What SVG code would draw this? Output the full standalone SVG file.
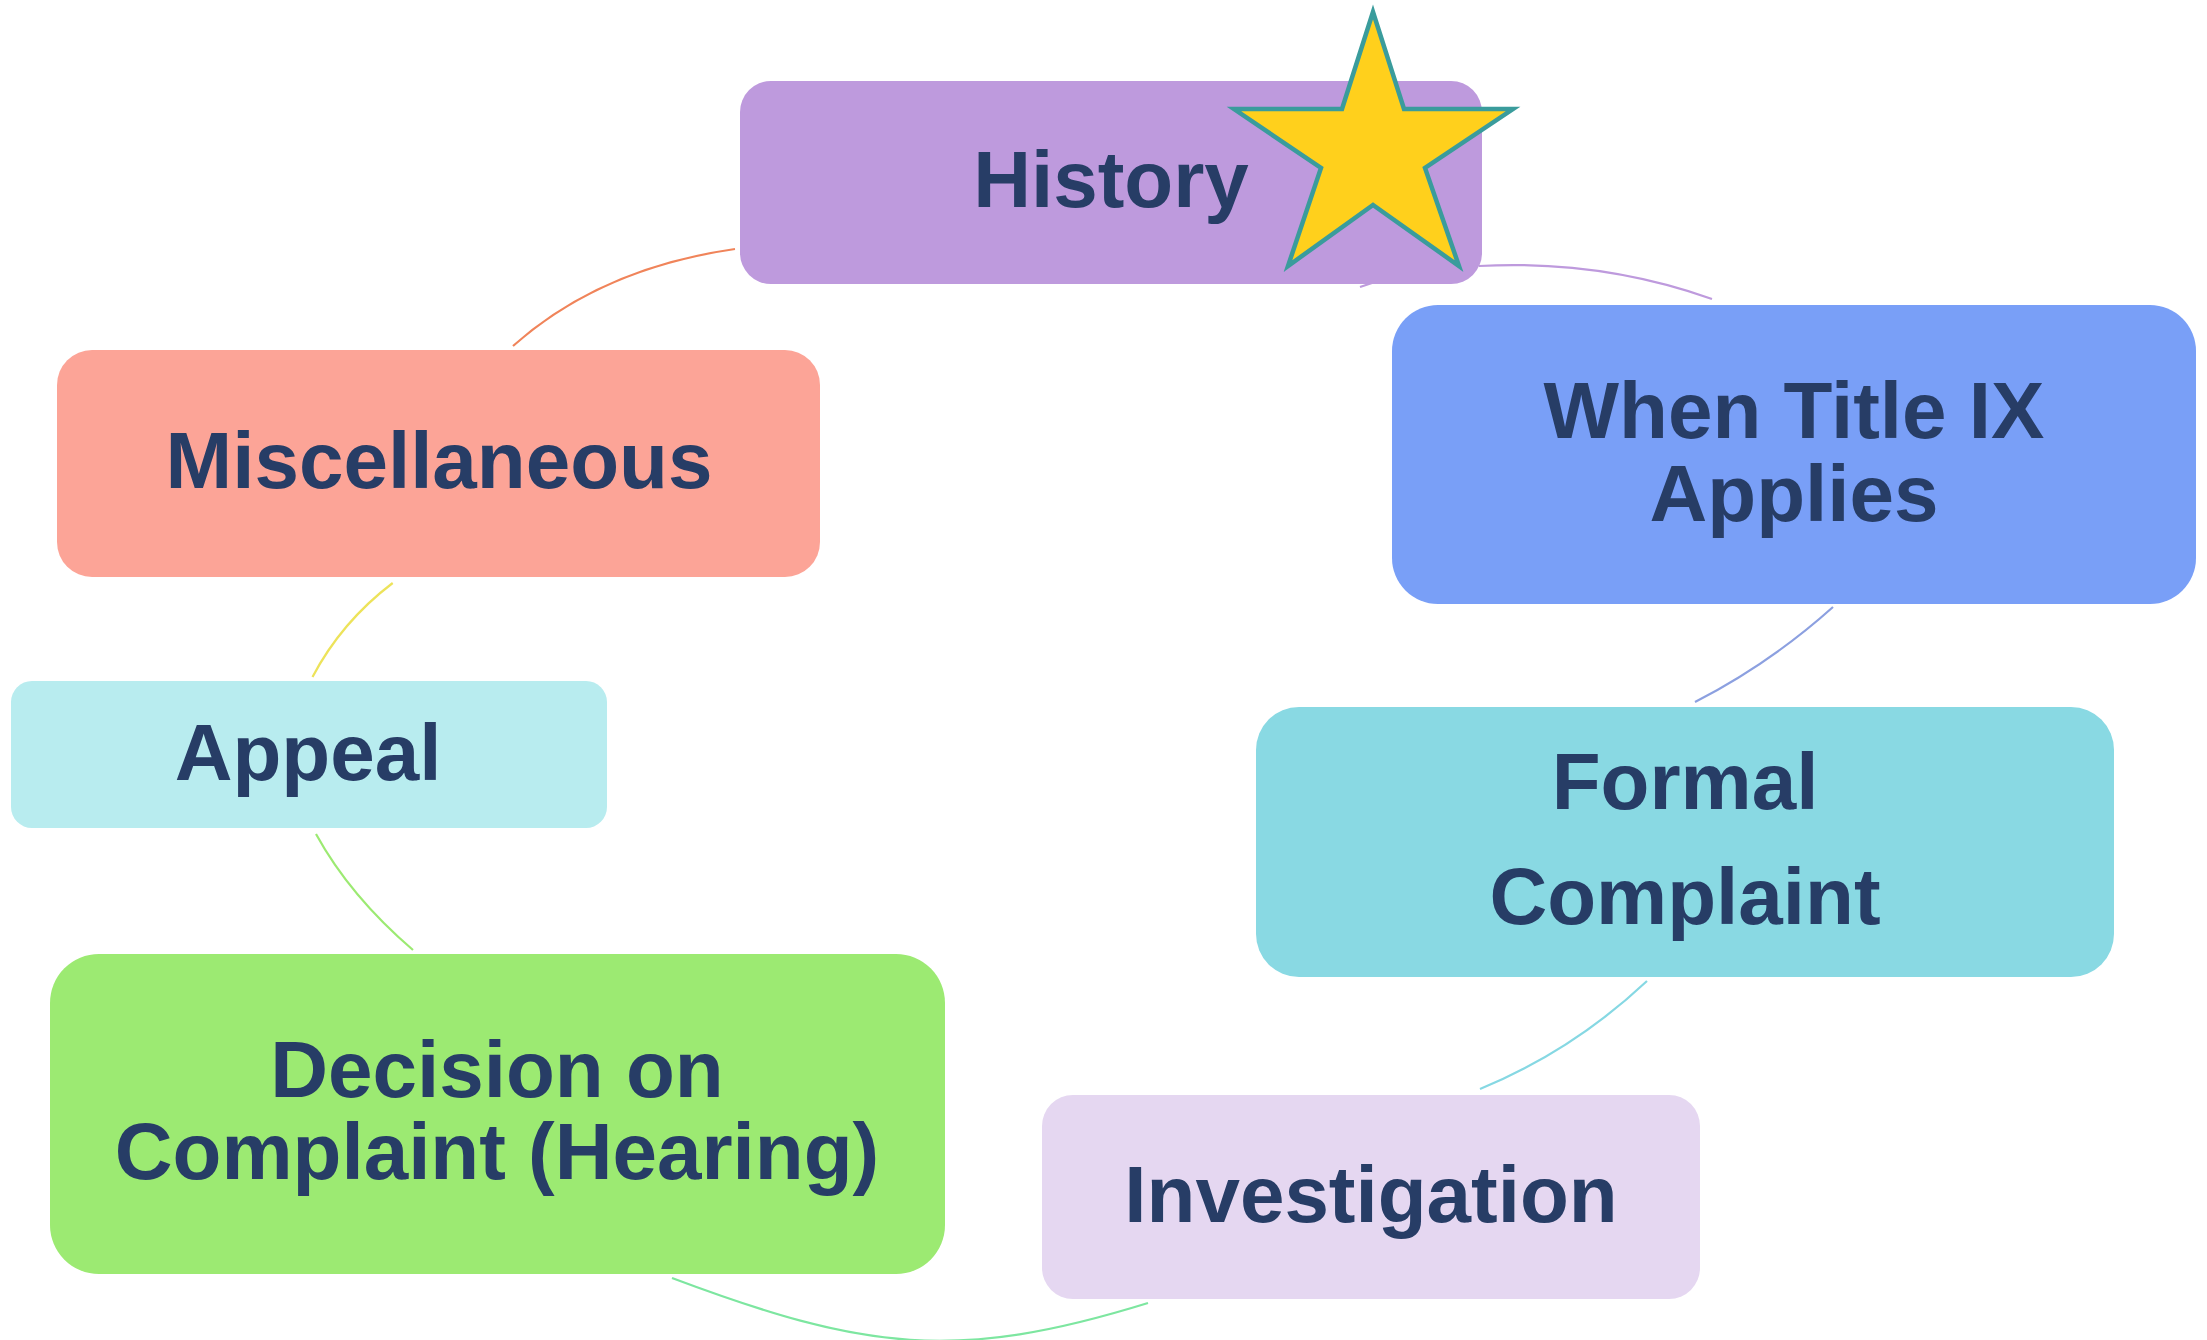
<svg xmlns="http://www.w3.org/2000/svg" width="2207" height="1340" viewBox="0 0 2207 1340">
<style>
.lbl{font-family:"Liberation Sans",Arial,sans-serif;font-weight:bold;font-size:80px;fill:#273D66;text-anchor:middle}
.arc{fill:none;stroke-width:2.2}
</style>
<rect x="0" y="0" width="2207" height="1340" fill="#FFFFFF"/>
<g id="connectors">
<path class="arc" stroke="#F0845A" d="M735,249 Q600,268.5 513,346"/>
<path class="arc" stroke="#BE9ADD" d="M1479,266 Q1600.5,259.5 1712,299"/>
<path class="arc" stroke="#BE9ADD" d="M1360,287 L1372,283"/>
<path class="arc" stroke="#8CA0E0" d="M1833,607 Q1770,663.5 1695,702"/>
<path class="arc" stroke="#86D8E3" d="M1647,981 Q1572.5,1051 1480,1089"/>
<path class="arc" stroke="#7DE6A0" d="M1148,1303 C956,1362.5 864,1350 672,1278"/>
<path class="arc" stroke="#9CEA72" d="M413,950 Q350,896 316,834"/>
<path class="arc" stroke="#EDE35A" d="M312.5,677 Q341.4,622 392.7,583"/>
</g>
<g id="node-history">
<rect x="740" y="81" width="742" height="203" rx="31" fill="#BE9ADD"/>
<text class="lbl" x="1111" y="207">History</text>
</g>
<g id="star">
<polygon points="1373,12 1404,109 1513,109 1425,168 1459,266 1373,205 1288,266 1321,168 1234,109 1342,109" fill="#FFD01C" stroke="#3A9C9C" stroke-width="4.5" stroke-linejoin="miter"/>
</g>
<g id="node-when">
<rect x="1392" y="305" width="804" height="299" rx="46" fill="#799FF7"/>
<text class="lbl" x="1794" y="438">When Title IX</text>
<text class="lbl" x="1794" y="521">Applies</text>
</g>
<g id="node-formal">
<rect x="1256" y="707" width="858" height="270" rx="43" fill="#89D9E3"/>
<text class="lbl" x="1685" y="809">Formal</text>
<text class="lbl" x="1685" y="924">Complaint</text>
</g>
<g id="node-investigation">
<rect x="1042" y="1095" width="658" height="204" rx="31" fill="#E5D7F1"/>
<text class="lbl" x="1371" y="1222">Investigation</text>
</g>
<g id="node-decision">
<rect x="50" y="954" width="895" height="320" rx="49" fill="#9CEA72"/>
<text class="lbl" x="497" y="1097">Decision on</text>
<text class="lbl" x="497" y="1179">Complaint (Hearing)</text>
</g>
<g id="node-appeal">
<rect x="11" y="681" width="596" height="147" rx="21" fill="#B8ECEF"/>
<text class="lbl" x="308" y="780">Appeal</text>
</g>
<g id="node-misc">
<rect x="57" y="350" width="763" height="227" rx="35" fill="#FCA497"/>
<text class="lbl" x="439" y="488">Miscellaneous</text>
</g>
</svg>
